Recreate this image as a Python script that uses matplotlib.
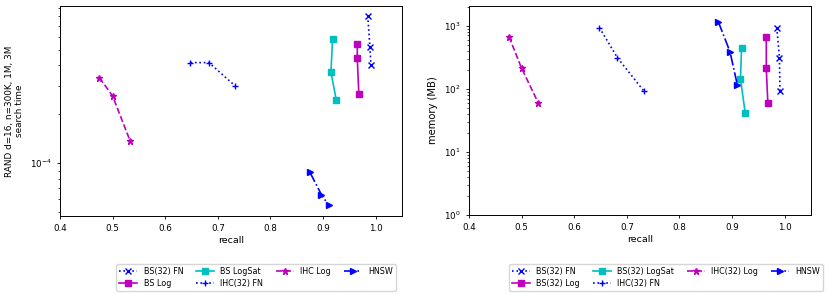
import numpy as np
import matplotlib
matplotlib.use("Agg")
import matplotlib.pyplot as plt
from matplotlib.ticker import NullFormatter

# search time (s) vs recall
bsfn_r = [0.985, 0.989, 0.991]
bsfn_t = [8.05e-4, 5.16e-4, 4.02e-4]
bslog_r = [0.965, 0.965, 0.968]
bslog_t = [5.42e-4, 4.42e-4, 2.65e-4]
bssat_r = [0.918, 0.915, 0.925]
bssat_t = [5.84e-4, 3.63e-4, 2.46e-4]
ihcfn_r = [0.648, 0.683, 0.733]
ihcfn_t = [4.16e-4, 4.16e-4, 2.99e-4]
ihclog_r = [0.475, 0.500, 0.533]
ihclog_t = [3.36e-4, 2.59e-4, 1.38e-4]
hnsw_r = [0.875, 0.897, 0.911]
hnsw_t = [8.8e-5, 6.4e-5, 5.5e-5]

# memory (MB) vs recall
bsfn_r2 = [0.985, 0.990, 0.991]
bsfn_m = [931, 311, 93]
bslog_r2 = [0.965, 0.965, 0.968]
bslog_m = [670, 211, 59]
bssat_r2 = [0.918, 0.916, 0.925]
bssat_m = [449, 143, 41]
ihcfn_r2 = [0.648, 0.682, 0.732]
ihcfn_m = [931, 311, 93]
ihclog_r2 = [0.476, 0.500, 0.532]
ihclog_m = [670, 211, 59]
hnsw_r2 = [0.874, 0.896, 0.910]
hnsw_m = [1145, 387, 115]

labels_left = ['BS(32) FN', 'BS Log', 'BS LogSat', 'IHC(32) FN', 'IHC Log', 'HNSW']
labels_right = ['BS(32) FN', 'BS(32) Log', 'BS(32) LogSat', 'IHC(32) FN', 'IHC(32) Log', 'HNSW']

styles = [
    dict(color='b', marker='x', linestyle=':'),
    dict(color='m', marker='s', linestyle='-'),
    dict(color='c', marker='s', linestyle='-'),
    dict(color='b', marker='+', linestyle=':'),
    dict(color='m', marker='*', linestyle='--'),
    dict(color='b', marker='>', linestyle='-.'),
]

plt.rcParams['font.size'] = 6.3
plt.rcParams['axes.labelsize'] = 6.8
plt.rcParams['axes.linewidth'] = 0.7
plt.rcParams['xtick.major.width'] = 0.6
plt.rcParams['ytick.major.width'] = 0.6
plt.rcParams['ytick.minor.width'] = 0.5
plt.rcParams['xtick.major.size'] = 2.5
plt.rcParams['ytick.major.size'] = 2.5
plt.rcParams['ytick.minor.size'] = 1.5

fig = plt.figure(figsize=(8.31, 2.94), dpi=100)
ax1 = fig.add_axes([60/831, 1-216/294, 342/831, 210/294])
ax2 = fig.add_axes([469/831, 1-215/294, 342/831, 209/294])

left = [(bsfn_r, bsfn_t), (bslog_r, bslog_t), (bssat_r, bssat_t),
        (ihcfn_r, ihcfn_t), (ihclog_r, ihclog_t), (hnsw_r, hnsw_t)]
right = [(bsfn_r2, bsfn_m), (bslog_r2, bslog_m), (bssat_r2, bssat_m),
         (ihcfn_r2, ihcfn_m), (ihclog_r2, ihclog_m), (hnsw_r2, hnsw_m)]

for (x, y), st, lab in zip(left, styles, labels_left):
    ax1.plot(x, y, label=lab, markersize=4.5, linewidth=1.2, **st)
for (x, y), st, lab in zip(right, styles, labels_right):
    ax2.plot(x, y, label=lab, markersize=4.5, linewidth=1.2, **st)

ax1.set_yscale('log')
ax1.set_ylim(4.74e-5, 9.27e-4)
ax1.yaxis.set_minor_formatter(NullFormatter())
ax1.set_xlim(0.4, 1.05)
ax1.set_xlabel('recall', labelpad=2)
ax1.set_ylabel('RAND d=16, n=300K, 1M, 3M\nsearch time', fontsize=6.4)

ax2.set_yscale('log')
ax2.set_ylim(1, 2050)
ax2.set_xlim(0.4, 1.05)
ax2.set_xlabel('recall', labelpad=2)
ax2.set_ylabel('memory (MB)', fontsize=7.2)

fig.legend(*ax1.get_legend_handles_labels(), loc='upper center', ncol=4,
           bbox_to_anchor=(256/831, 1-260/294), fontsize=5.8, frameon=True,
           handlelength=2.2, columnspacing=1.6, borderpad=0.4, labelspacing=0.3)
fig.legend(*ax2.get_legend_handles_labels(), loc='upper center', ncol=4,
           bbox_to_anchor=(666/831, 1-260/294), fontsize=5.8, frameon=True,
           handlelength=2.2, columnspacing=1.6, borderpad=0.4, labelspacing=0.3)

fig.savefig('out.png', dpi=100)
